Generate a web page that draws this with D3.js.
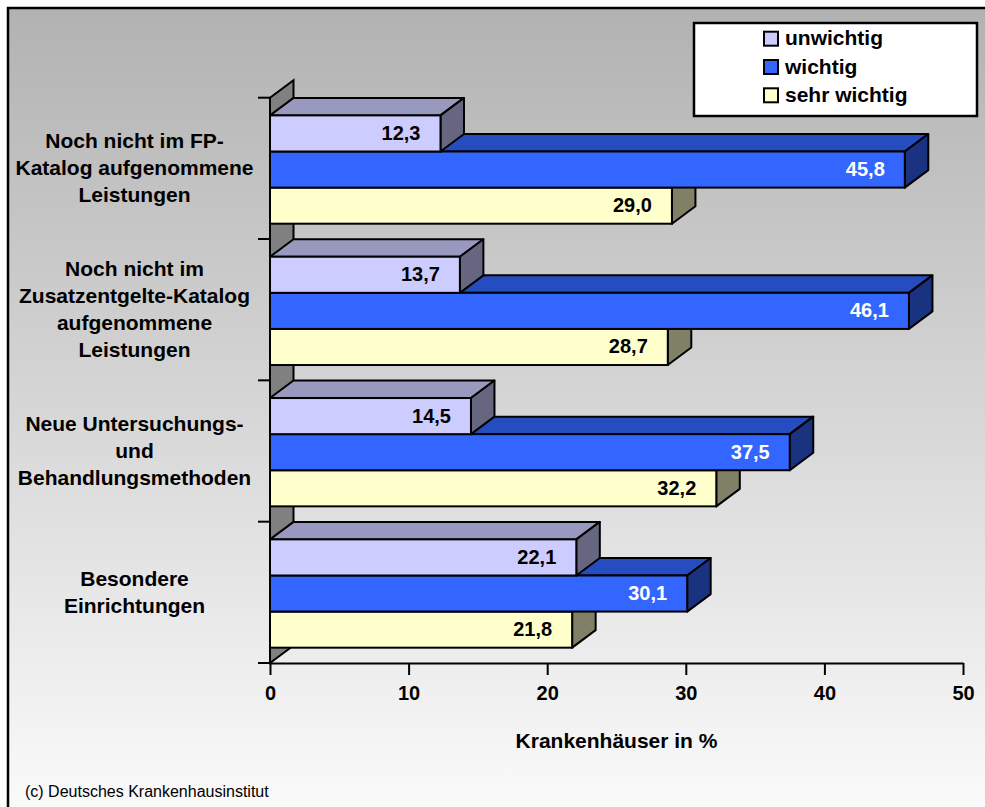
<!DOCTYPE html>
<html>
<head>
<meta charset="utf-8">
<script src="https://cdn.jsdelivr.net/npm/d3@7"></script>
<style>
body { margin: 0; background: #fff; }
text { font-family: Arial, "Liberation Sans", sans-serif; }
</style>
</head>
<body>
<script>
var width = 985,
    height = 807;

// data
var categories = [
    "Noch nicht im FP-\nKatalog aufgenommene\nLeistungen",
    "Noch nicht im\nZusatzentgelte-Katalog\naufgenommene\nLeistungen",
    "Neue Untersuchungs-\nund\nBehandlungsmethoden",
    "Besondere\nEinrichtungen"
];
var series = ["unwichtig", "wichtig", "sehr wichtig"];
var unwichtig = [12.3, 13.7, 14.5, 22.1];
var wichtig = [45.8, 46.1, 37.5, 30.1];
var sehrWichtig = [29.0, 28.7, 32.2, 21.8];
var xTicks = [0, 10, 20, 30, 40, 50];
var colors = ["#ccccff", "#3366ff", "#ffffcc"];
var labelColors = ["#000", "#fff", "#000"];

var values = [unwichtig, wichtig, sehrWichtig];

var de = d3.formatLocale({decimal: ",", thousands: ".", grouping: [3], currency: ["", " €"]});
var fmt = de.format(".1f");

var dx = 23.5, dy = -17.5;

var svg = d3.select("body").append("svg")
    .attr("width", width)
    .attr("height", height);

var grad = svg.append("defs").append("linearGradient")
    .attr("id", "bg")
    .attr("x1", 0).attr("y1", 0).attr("x2", 0).attr("y2", 1);
grad.append("stop").attr("offset", "0%").attr("stop-color", "#b2b2b2");
grad.append("stop").attr("offset", "100%").attr("stop-color", "#fdfdfd");

svg.append("rect")
    .attr("x", 8).attr("y", 8)
    .attr("width", 1000).attr("height", 830)
    .attr("fill", "url(#bg)")
    .attr("stroke", "#000")
    .attr("stroke-width", 2.5);

var x = d3.scaleLinear().domain([0, 50]).range([270, 963]);
var y = d3.scaleBand().domain(categories).range([97.7, 663]);
var inner = d3.scaleBand().domain(series).range([17.7, 126]);

function shade(c, k) {
    var r = d3.rgb(c);
    return d3.rgb(r.r * k, r.g * k, r.b * k).formatHex();
}

// left wall
var x0 = x(0), yTop = y.range()[0], yBot = y.range()[1];
svg.append("path")
    .attr("d", "M" + [x0, yTop] + "L" + [x0 + dx, yTop + dy] +
        "L" + [x0 + dx, yBot + dy] + "L" + [x0, yBot] + "Z")
    .attr("fill", "#808080")
    .attr("stroke", "#000")
    .attr("stroke-width", 2);

// bars, bottom first so upper bars cover the top faces below
var bars = [];
for (var c = categories.length - 1; c >= 0; c--) {
    for (var s = series.length - 1; s >= 0; s--) {
        bars.push({cat: categories[c], s: s, v: values[s][c]});
    }
}

var g = svg.selectAll("g.bar")
    .data(bars)
    .enter().append("g")
    .attr("class", "bar");

function geo(d) {
    var y0 = y(d.cat) + inner(series[d.s]);
    return {x0: x(0), x1: x(d.v), y0: y0, h: inner.bandwidth()};
}

g.append("path")
    .attr("d", function(d) {
        var b = geo(d);
        return "M" + [b.x0, b.y0] + "L" + [b.x0 + dx, b.y0 + dy] +
            "L" + [b.x1 + dx, b.y0 + dy] + "L" + [b.x1, b.y0] + "Z";
    })
    .attr("fill", function(d) { return shade(colors[d.s], 0.75); })
    .attr("stroke", "#000").attr("stroke-width", 2).attr("stroke-linejoin", "round");

g.append("path")
    .attr("d", function(d) {
        var b = geo(d);
        return "M" + [b.x1, b.y0] + "L" + [b.x1 + dx, b.y0 + dy] +
            "L" + [b.x1 + dx, b.y0 + b.h + dy] + "L" + [b.x1, b.y0 + b.h] + "Z";
    })
    .attr("fill", function(d) { return shade(colors[d.s], 0.5); })
    .attr("stroke", "#000").attr("stroke-width", 2).attr("stroke-linejoin", "round");

g.append("rect")
    .attr("x", function(d) { return geo(d).x0; })
    .attr("y", function(d) { return geo(d).y0; })
    .attr("width", function(d) { return geo(d).x1 - geo(d).x0; })
    .attr("height", function(d) { return geo(d).h; })
    .attr("fill", function(d) { return colors[d.s]; })
    .attr("stroke", "#000").attr("stroke-width", 2);

g.append("text")
    .attr("x", function(d) { return geo(d).x1 - 20; })
    .attr("y", function(d) { var b = geo(d); return b.y0 + b.h / 2 + 6.5; })
    .attr("text-anchor", "end")
    .attr("font-size", 20)
    .attr("font-weight", "bold")
    .attr("fill", function(d) { return labelColors[d.s]; })
    .text(function(d) { return fmt(d.v); });

// x axis
var xAxis = svg.append("g")
    .attr("transform", "translate(0," + yBot + ")")
    .call(d3.axisBottom(x).tickValues(xTicks).tickSize(12).tickSizeOuter(0).tickPadding(11));
xAxis.select(".domain").attr("stroke", "#000").attr("stroke-width", 2);
xAxis.selectAll(".tick line").attr("stroke", "#000").attr("stroke-width", 2);
xAxis.selectAll(".tick text")
    .attr("font-size", 20).attr("font-weight", "bold").attr("fill", "#000")
    .style("font-family", "Arial, 'Liberation Sans', sans-serif");

// category ticks on the left
var yTicks = categories.map(function(d) { return y(d); }).concat([yBot]);
svg.selectAll("line.ytick")
    .data(yTicks)
    .enter().append("line")
    .attr("class", "ytick")
    .attr("x1", x0 - 12).attr("x2", x0)
    .attr("y1", function(d) { return d; })
    .attr("y2", function(d) { return d; })
    .attr("stroke", "#000").attr("stroke-width", 2);

// category labels
svg.selectAll("text.cat")
    .data(categories)
    .enter().append("text")
    .attr("class", "cat")
    .attr("text-anchor", "middle")
    .attr("font-size", 21)
    .attr("font-weight", "bold")
    .each(function(d) {
        var lines = d.split("\n"),
            cy = y(d) + y.bandwidth() / 2 + 7;
        d3.select(this).selectAll("tspan")
            .data(lines)
            .enter().append("tspan")
            .attr("x", 134.5)
            .attr("y", function(l, i) { return cy + (i - (lines.length - 1) / 2) * 27; })
            .text(function(l) { return l; });
    });

// axis title
svg.append("text")
    .attr("x", (x.range()[0] + x.range()[1]) / 2)
    .attr("y", 748)
    .attr("text-anchor", "middle")
    .attr("font-size", 21)
    .attr("font-weight", "bold")
    .text("Krankenhäuser in %");

// legend
var legend = svg.append("g");
legend.append("rect")
    .attr("x", 694).attr("y", 23)
    .attr("width", 283).attr("height", 93)
    .attr("fill", "#fff")
    .attr("stroke", "#000").attr("stroke-width", 2.5);

var item = legend.selectAll("g.item")
    .data(series)
    .enter().append("g")
    .attr("class", "item")
    .attr("transform", function(d, i) { return "translate(764," + (31.7 + i * 28.3) + ")"; });
item.append("rect")
    .attr("width", 14).attr("height", 14)
    .attr("fill", function(d, i) { return colors[i]; })
    .attr("stroke", "#000").attr("stroke-width", 2);
item.append("text")
    .attr("x", 21).attr("y", 13.5)
    .attr("font-size", 21)
    .attr("font-weight", "bold")
    .text(function(d) { return d; });

// source
svg.append("text")
    .attr("x", 25).attr("y", 797)
    .attr("font-size", 16)
    .text("(c) Deutsches Krankenhausinstitut");
</script>
</body>
</html>
